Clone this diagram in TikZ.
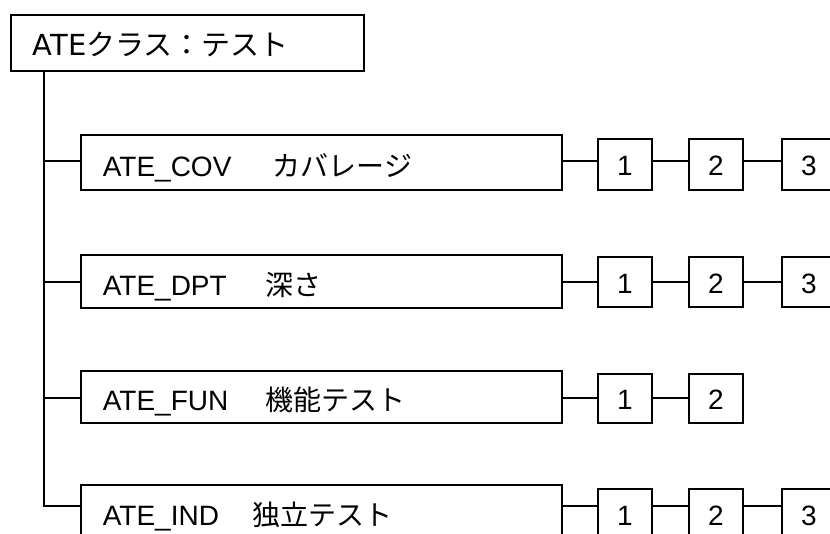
\documentclass[tikz,border=0pt]{standalone}
\usepackage{fontspec}
\setmainfont{Liberation Sans}
\newfontfamily\jp{Noto Sans CJK JP}
\newfontfamily\dvs{DejaVu Sans}
\begin{document}
\begin{tikzpicture}[x=1pt,y=-1pt,
  box/.style={draw=black,line width=1.6pt,fill=white,anchor=north west,inner sep=0pt,font=\fontsize{28}{34}\selectfont},
  bigbox/.style={box,minimum width=481pt,text width=437pt,align=left,text height=28pt,text depth=0pt},
  numbox/.style={box,minimum width=54pt,align=center,text height=23pt,text depth=0pt},
  conn/.style={draw=black,line width=1.6pt}]
\useasboundingbox (0,0) rectangle (830,534);
% top
\node[box,minimum width=353pt,minimum height=56pt,text width=309pt,align=left,text height=26pt,text depth=0pt,font=\fontsize{29}{34}\selectfont] (top) at (10,14) {{\dvs ATE}{\jp クラス：テスト}};
% coordinates of connector rows
\coordinate (c1) at (44,161);
\coordinate (c2) at (44,282);
\coordinate (c3) at (44,398);
\coordinate (c4) at (44,506);
% big boxes
\node[bigbox,minimum height=55pt] (b1) at (80,134) {\makebox[170pt][l]{ATE\_COV}{\jp カバレージ}};
\node[bigbox,minimum height=53pt] (b2) at (80,254) {\makebox[163pt][l]{ATE\_DPT}{\jp 深さ}};
\node[bigbox,minimum height=52pt] (b3) at (80,370) {\makebox[163pt][l]{ATE\_FUN}{\jp 機能テスト}};
\node[bigbox,minimum height=54pt] (b4) at (80,484) {\makebox[150pt][l]{ATE\_IND}{\jp 独立テスト}};
% number boxes
\node[numbox,minimum height=51pt] (n11) at (597,138) {1};
\node[numbox,minimum height=51pt] (n12) at (688,138) {2};
\node[numbox,minimum height=51pt] (n13) at (781,138) {3};
\node[numbox,minimum height=50pt] (n21) at (597,256) {1};
\node[numbox,minimum height=50pt] (n22) at (688,256) {2};
\node[numbox,minimum height=50pt] (n23) at (781,256) {3};
\node[numbox,minimum height=49pt] (n31) at (597,373) {1};
\node[numbox,minimum height=49pt] (n32) at (688,373) {2};
\node[numbox,minimum height=50pt] (n41) at (597,488) {1};
\node[numbox,minimum height=50pt] (n42) at (688,488) {2};
\node[numbox,minimum height=50pt] (n43) at (781,488) {3};
% trunk
\draw[conn] (top.south -| c1) -- (c4) -- (b4.west |- c4);
\draw[conn] (c1) -- (b1.west |- c1);
\draw[conn] (c2) -- (b2.west |- c2);
\draw[conn] (c3) -- (b3.west |- c3);
% row connectors
\draw[conn] (b1.east |- c1) -- (n11.west |- c1);
\draw[conn] (n11.east |- c1) -- (n12.west |- c1);
\draw[conn] (n12.east |- c1) -- (n13.west |- c1);
\draw[conn] (b2.east |- c2) -- (n21.west |- c2);
\draw[conn] (n21.east |- c2) -- (n22.west |- c2);
\draw[conn] (n22.east |- c2) -- (n23.west |- c2);
\draw[conn] (b3.east |- c3) -- (n31.west |- c3);
\draw[conn] (n31.east |- c3) -- (n32.west |- c3);
\draw[conn] (b4.east |- c4) -- (n41.west |- c4);
\draw[conn] (n41.east |- c4) -- (n42.west |- c4);
\draw[conn] (n42.east |- c4) -- (n43.west |- c4);
\end{tikzpicture}
\end{document}
